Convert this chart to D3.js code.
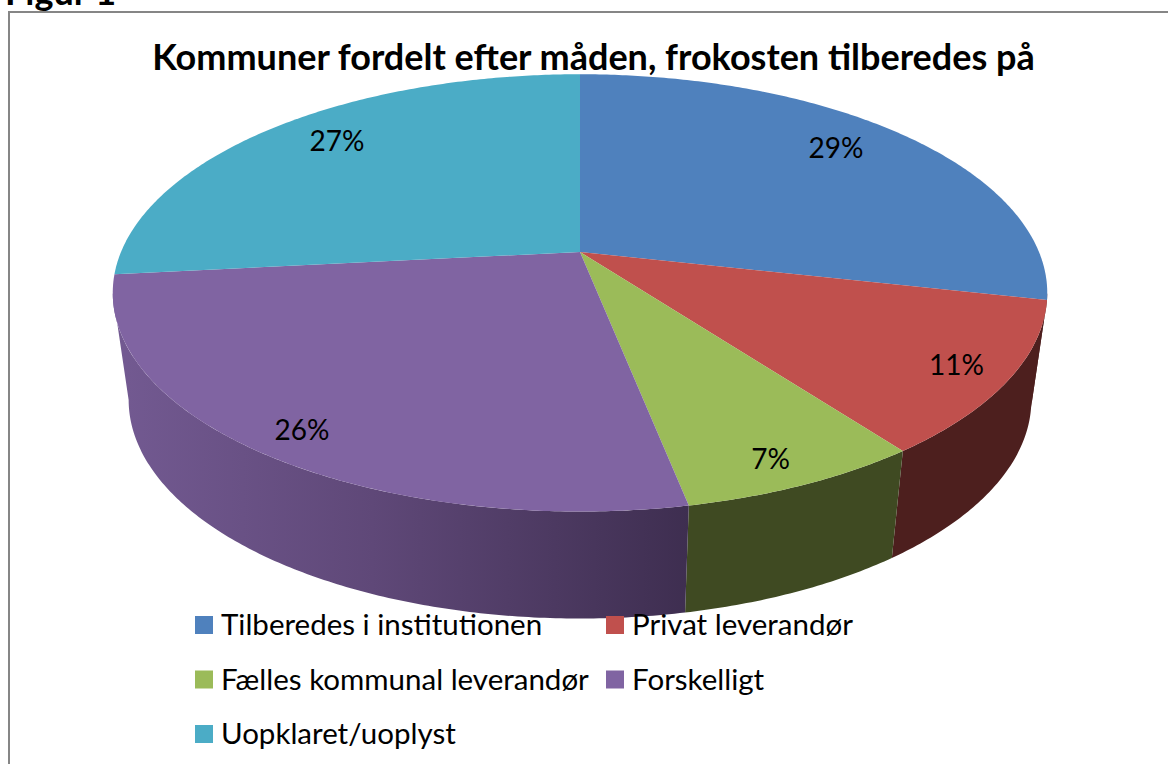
<!DOCTYPE html>
<html>
<head>
<meta charset="utf-8">
<script src="https://d3js.org/d3.v7.min.js"></script>
<style>
  html, body { margin: 0; padding: 0; background: #fff; overflow: hidden; }
  text { font-family: Lato, "Open Sans", sans-serif; fill: #000; }
</style>
</head>
<body>
<div id="chart"></div>
<script>
const categories = ["Tilberedes i institutionen", "Privat leverandør", "Fælles kommunal leverandør", "Forskelligt", "Uopklaret/uoplyst"];
// the printed labels are these rounded
const shares = [28.5, 11.3, 7.1, 26.45, 26.65];
const topColors = ["#4f81bd", "#c0504d", "#9bbb59", "#8064a2", "#4bacc6"];
// the blue sliver on the right rim is drawn in the red side's colour, no blue shows there
const sideColors = ["#4d1f1e", "#4d1f1e", "#3f4a22", "url(#purpleSide)", null];
// label nudges from the projected slice middle, pixels
const labelNudge = [[-6, -7], [41, 13], [18, 28], [-30, 24], [5, -8]];

const width = 1168, height = 764;

const svg = d3.select("#chart").append("svg")
  .attr("width", width)
  .attr("height", height);

// Perspective of the unit disc, same look as the Excel 3D pie
const apex = { x: 580, y: 252 };
const scaleU = 459, scaleV = 211, tilt = 0.187;
const depth = { shrink: 0.966, drop: 107 };

function project(angle, r) {
  let u = r * Math.sin(angle);
  let v = -r * Math.cos(angle);
  let w = 1 - tilt * v;
  return [apex.x + scaleU * u / w, apex.y + scaleV * v / w];
}

function projectBottom(angle) {
  let p = project(angle, 1);
  return [apex.x + (p[0] - apex.x) * depth.shrink, p[1] + depth.drop];
}

function arcAngles(a0, a1) {
  let n = Math.max(2, Math.ceil((a1 - a0) / 0.01));
  return d3.range(n + 1).map(i => a0 + (a1 - a0) * i / n);
}

const line = d3.line();

const pie = d3.pie().sort(null).value(d => d);
const slices = pie(shares);

const defs = svg.append("defs");
const grad = defs.append("linearGradient")
  .attr("id", "purpleSide")
  .attr("gradientUnits", "userSpaceOnUse")
  .attr("x1", 113).attr("x2", 690).attr("y1", 0).attr("y2", 0);
grad.append("stop").attr("offset", "0%").attr("stop-color", "#735a92");
grad.append("stop").attr("offset", "45%").attr("stop-color", "#5f4878");
grad.append("stop").attr("offset", "100%").attr("stop-color", "#3e2e50");

// frame, its right and bottom edges are outside the photo
svg.append("rect")
  .attr("x", 9).attr("y", 12)
  .attr("width", width + 20).attr("height", height + 20)
  .attr("fill", "none")
  .attr("stroke", "#868686")
  .attr("stroke-width", 2);

svg.append("text")
  .attr("x", 5).attr("y", 5)
  .attr("font-size", 36)
  .attr("font-weight", 700)
  .text("Figur 1");

svg.append("text")
  .attr("x", 593.5).attr("y", 70)
  .attr("text-anchor", "middle")
  .attr("font-size", 36)
  .attr("font-weight", 700)
  .text("Kommuner fordelt efter måden, frokosten tilberedes på");

// sides first, clamped to the part of the rim that faces us
const rimStart = Math.PI / 2 + Math.asin(tilt);
const rimEnd = 3 * Math.PI / 2 - Math.asin(tilt);
const gSides = svg.append("g");
slices.forEach(function(d, i) {
  if (!sideColors[i]) return;
  let a0 = Math.max(d.startAngle, rimStart);
  let a1 = Math.min(d.endAngle, rimEnd);
  if (a1 <= a0) return;
  let angles = arcAngles(a0, a1);
  let outline = angles.map(a => project(a, 1))
    .concat(angles.slice().reverse().map(projectBottom));
  gSides.append("path")
    .attr("d", line(outline) + "Z")
    .attr("fill", sideColors[i]);
});

const gTop = svg.append("g");
slices.forEach(function(d, i) {
  let outline = [[apex.x, apex.y]].concat(arcAngles(d.startAngle, d.endAngle).map(a => project(a, 1)));
  gTop.append("path")
    .attr("d", line(outline) + "Z")
    .attr("fill", topColors[i]);
});

const gLabels = svg.append("g");
slices.forEach(function(d, i) {
  let p = project((d.startAngle + d.endAngle) / 2, 0.8);
  gLabels.append("text")
    .attr("x", p[0] + labelNudge[i][0])
    .attr("y", p[1] + labelNudge[i][1])
    .attr("dy", "0.35em")
    .attr("text-anchor", "middle")
    .attr("font-size", 28)
    .text(Math.round(d.data) + "%");
});

// legend fills two columns, left to right
const legendX = [195, 606];
const legendY = [625, 679.5, 734];
const gLegend = svg.append("g");
categories.forEach(function(name, i) {
  let g = gLegend.append("g")
    .attr("transform", "translate(" + legendX[i % 2] + "," + legendY[Math.floor(i / 2)] + ")");
  g.append("rect")
    .attr("x", 0).attr("y", -9)
    .attr("width", 18).attr("height", 18)
    .attr("fill", topColors[i]);
  g.append("text")
    .attr("x", 26)
    .attr("dy", "0.35em")
    .attr("font-size", 29.5)
    .text(name);
});
</script>
</body>
</html>
